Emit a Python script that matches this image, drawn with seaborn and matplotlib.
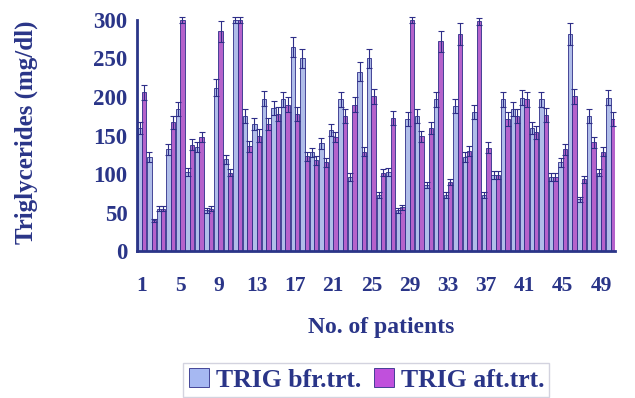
import numpy as np
import pandas as pd
import seaborn as sns
import matplotlib.pyplot as plt
from matplotlib.patches import Patch

# ---- data ----
patients = list(range(1, 51))
series_labels = ["TRIG bfr.trt.", "TRIG aft.trt."]
before = [160, 122, 55, 132, 184, 103, 135, 53, 212, 119,
          300, 175, 165, 198, 186, 197, 265, 250, 128, 140,
          157, 197, 96, 233, 250, 73, 103, 53, 171, 175,
          86, 197, 73, 188, 122, 181, 73, 99, 197, 184,
          199, 160, 197, 96, 115, 282, 67, 175, 102, 199]
after = [206, 40, 55, 167, 300, 138, 148, 55, 285, 102,
         300, 136, 150, 165, 178, 190, 178, 123, 118, 115,
         148, 175, 190, 129, 201, 102, 173, 57, 300, 149,
         160, 272, 90, 282, 130, 298, 134, 99, 171, 175,
         197, 154, 177, 96, 132, 201, 93, 141, 129, 171]
before_err = [8, 6, 3, 7, 9, 5, 7, 3, 11, 6,
              4, 9, 8, 10, 9, 10, 13, 12, 6, 7,
              8, 10, 5, 12, 12, 4, 5, 3, 9, 9,
              4, 10, 4, 9, 6, 9, 4, 5, 10, 9,
              10, 8, 10, 5, 6, 14, 3, 9, 5, 10]
after_err = [10, 2, 3, 8, 4, 7, 7, 3, 14, 5,
             4, 7, 8, 8, 9, 10, 9, 6, 6, 6,
             7, 9, 10, 6, 10, 5, 9, 3, 4, 7,
             8, 14, 4, 14, 7, 4, 7, 5, 9, 9,
             10, 8, 9, 5, 7, 10, 5, 7, 6, 9]
xtick_labels = ["1", "5", "9", "13", "17", "21", "25", "29", "33", "37", "41", "45", "49"]
yticks = [0, 50, 100, 150, 200, 250, 300]

# ---- style ----
blue = "#a6b8f2"
magenta = "#c050dc"
edge = "#2e2e88"
navy = "#2a3588"

sns.set_theme(style="white")
plt.rcParams['font.family'] = ['Liberation Serif', 'DejaVu Serif']

df = pd.DataFrame({
    "patient": patients * 2,
    "value": before + after,
    "series": [series_labels[0]] * len(patients) + [series_labels[1]] * len(patients),
})

fig = plt.figure(figsize=(6.35, 3.98), dpi=100)
ax = fig.add_axes([0.216, 0.369, 0.753, 0.581])

sns.barplot(data=df, x="patient", y="value", hue="series",
            hue_order=series_labels, palette=[blue, magenta],
            width=0.92, edgecolor=edge, linewidth=0.6,
            errorbar=None, legend=False, ax=ax)

for cont, errs in zip(ax.containers, [before_err, after_err]):
    xs = [b.get_x() + b.get_width() / 2 for b in cont]
    hs = [b.get_height() for b in cont]
    ax.errorbar(xs, hs, yerr=errs, fmt='none', ecolor=edge, elinewidth=0.8,
                capsize=2, capthick=0.8, clip_on=False, zorder=5)

ax.set_ylim(0, 300)
ax.set_xlim(-0.5, len(patients) - 0.5)
ax.set_yticks(yticks)
ax.set_yticklabels([str(v) for v in yticks], fontsize=16.5, fontweight='bold', color=navy)
ax.set_xticks(np.arange(0, len(patients), 4))
ax.set_xticklabels(xtick_labels, fontsize=15.5, fontweight='bold', color=navy)
ax.set_xticks(np.arange(-0.5, len(patients), 1), minor=True)
ax.tick_params(axis='x', which='major', length=0, pad=18)
ax.tick_params(axis='x', which='minor', length=4, width=1.2, color=navy, direction='out')
ax.tick_params(axis='y', length=4, width=1.2, color=navy, direction='out', pad=3)

for s in ["top", "right"]:
    ax.spines[s].set_visible(False)
for s in ["left", "bottom"]:
    ax.spines[s].set_color(navy)
    ax.spines[s].set_linewidth(2)

ax.set_xlabel("No. of patients", fontsize=17, fontweight='bold', color=navy)
ax.xaxis.set_label_coords(0.51, -0.285)
ax.set_ylabel("Triglycerides (mg/dl)", fontsize=18, fontweight='bold', color=navy)
ax.yaxis.set_label_coords(-0.208, 0.515)

handles = [Patch(facecolor=blue, edgecolor=edge, linewidth=0.6),
           Patch(facecolor=magenta, edgecolor=edge, linewidth=0.6)]
leg = fig.legend(handles, series_labels, loc='center', bbox_to_anchor=(0.577, 0.046),
                 ncol=2, frameon=True, fancybox=False, edgecolor='#c8c8d8',
                 handlelength=0.8, handleheight=0.8, handletextpad=0.25,
                 columnspacing=0.5, borderpad=0.2,
                 prop={'size': 18.5, 'weight': 'bold'})
for t in leg.get_texts():
    t.set_color(navy)

fig.savefig("out.png", dpi=100)
